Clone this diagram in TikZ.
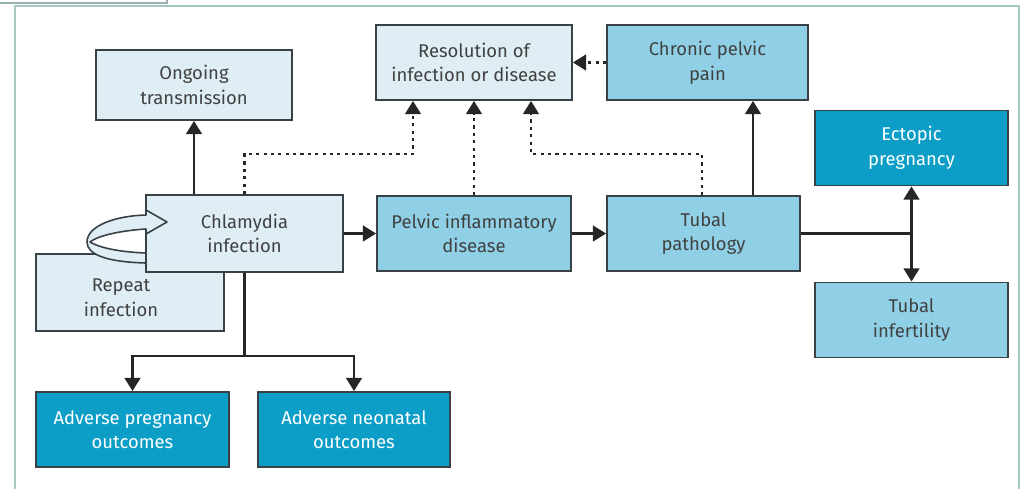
\documentclass[tikz,border=0pt]{standalone}
\usepackage{fontspec}
\setmainfont{Fira Sans}
\usepackage{tikz}
\usetikzlibrary{shapes,arrows,arrows.meta,positioning,calc}
\definecolor{boxlight}{RGB}{222,238,244}
\definecolor{boxmid}{RGB}{143,208,230}
\definecolor{boxdark}{RGB}{12,158,198}
\definecolor{edge}{RGB}{55,65,70}
\definecolor{txt}{RGB}{65,65,65}
\definecolor{framecol}{RGB}{165,200,195}

\begin{document}
\begin{tikzpicture}[x={(0.02cm,0)},y={(0,-0.02cm)},
  box/.style={draw=edge,line width=1.1pt,minimum width=3.92cm,minimum height=1.5cm,align=center,text=txt,font=\fontsize{10.5}{14}\selectfont},
  lbox/.style={box,fill=boxlight},
  mbox/.style={box,fill=boxmid},
  dbox/.style={box,fill=boxdark,text=white},
  arr/.style={-{Triangle[width=9pt,length=7.5pt]},line width=1.2pt,draw=black!85},
  dotarr/.style={arr,dash pattern=on 1.8pt off 2.4pt}]
\useasboundingbox (0,0) rectangle (1025,488);
\draw[framecol,line width=1pt] (15,496) -- (15,6) -- (1019,6) -- (1019,496);
\draw[framecol!70!gray,line width=0.8pt] (0,3) -- (167,3) -- (167,0);

% top row
\node[lbox,minimum height=1.4cm] (trans) at (194,85) {Ongoing\\transmission};
\node[lbox] (resol) at (474,62.5) {Resolution of\\infection or disease};
\node[mbox,minimum width=4.02cm] (pain) at (707.5,62.5) {Chronic pelvic\\pain};

% middle row
\node[lbox,minimum width=3.76cm,minimum height=1.54cm] (repeat) at (130,292.5) {};
\node[text=txt,align=center,font=\fontsize{10.5}{14}\selectfont] (repeattxt) at (121,298) {Repeat\\infection};
\node[lbox,minimum width=3.94cm,minimum height=1.54cm] (chlam) at (244.5,233.5) {Chlamydia\\infection};
\node[mbox,minimum width=3.88cm] (pid) at (474,233.5) {Pelvic inflammatory\\disease};
\node[mbox,minimum width=3.86cm] (tubal) at (703.5,233.5) {Tubal\\pathology};

% right column
\node[dbox,minimum width=3.86cm] (ectopic) at (911.5,148) {Ectopic\\pregnancy};
\node[mbox,minimum width=3.86cm] (infert) at (911.5,320) {Tubal\\infertility};

% bottom row
\node[dbox,minimum width=3.86cm] (advpreg) at (132.5,429.5) {Adverse pregnancy\\outcomes};
\node[dbox,minimum width=3.84cm] (advneo) at (354,429.5) {Adverse neonatal\\outcomes};

% repeat loop
\filldraw[fill=boxlight,draw=edge,line width=0.9pt,line join=round]
  (146,215) -- (146,210) -- (167,222) -- (146,234) -- (146,229)
  .. controls (115,231) and (96,237) .. (90,242)
  .. controls (100,248) and (120,252) .. (146,253) -- (146,263)
  .. controls (108,262) and (87,255) .. (87,242)
  .. controls (87,227) and (112,216) .. (146,215) -- cycle;

% solid links
\draw[arr] (trans.south |- chlam.north) -- (trans.south);
\draw[arr] (chlam.east) -- (pid.west);
\draw[arr] (pid.east) -- (tubal.west);
\draw[arr] ([xshift=0.99cm]tubal.north) -- ([xshift=0.99cm]tubal.north |- pain.south);
\draw[line width=1.2pt,draw=black!85] (tubal.east) -- (tubal.east -| ectopic.south) coordinate (fork);
\draw[arr] (fork) -- (ectopic.south);
\draw[arr] (fork) -- (infert.north);
\draw[line width=1.2pt,draw=black!85] (chlam.south) -- ++(0,83) coordinate (split);
\draw[arr] (split) -| (advpreg.north);
\draw[arr] (split) -| (advneo.north);

% dotted links
\draw[dotarr] (chlam.north) -- ++(0,-40) -| ([xshift=-1.22cm]resol.south);
\draw[dotarr] (pid.north) -- (resol.south);
\draw[dotarr] ([xshift=-0.03cm]tubal.north) -- ++(0,-41) -| ([xshift=1.14cm]resol.south);
\draw[dotarr] (pain.west) -- (resol.east);
\end{tikzpicture}
\end{document}
